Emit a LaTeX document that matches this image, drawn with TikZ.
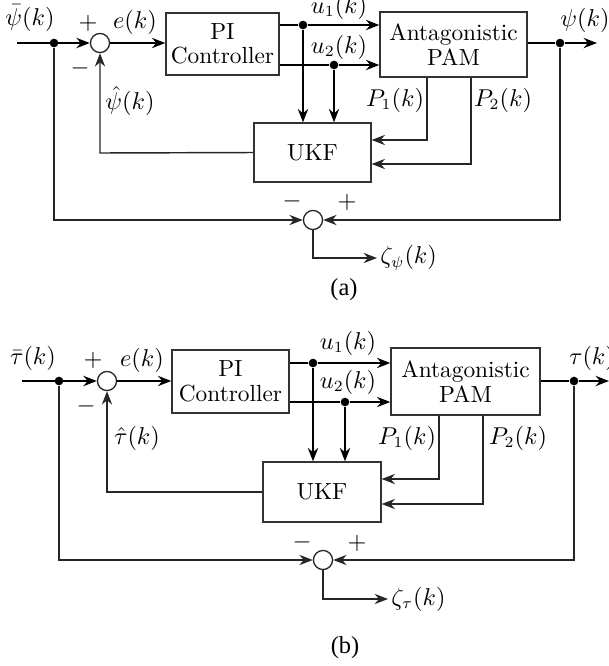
\documentclass[tikz,border=0pt]{standalone}
\usepackage{fontspec}
\newfontfamily\capfont[Ligatures=TeX]{Liberation Serif}
\usetikzlibrary{arrows.meta}
\begin{document}
\begin{tikzpicture}[x=0.45pt,y=-0.45pt,
  blk/.style={draw=black!80,line width=0.6pt,inner sep=0pt,align=center,font=\fontsize{10.5}{12}\selectfont},
  sumc/.style={circle,draw=black!85,line width=0.6pt,minimum size=8.6pt,inner sep=0pt},
  dotn/.style={circle,fill=black,minimum size=3.9pt,inner sep=0pt},
  fwd/.style={line width=1.05pt,-{Stealth[length=6pt,width=4.6pt]}},
  bwd/.style={line width=0.65pt,draw=black!85,-{Stealth[length=6pt,width=4.6pt]}},
  lbl/.style={inner sep=0pt,font=\fontsize{10.5}{12}\selectfont},
  sgn/.style={inner sep=0pt,font=\fontsize{11}{12}\selectfont},
  captxt/.style={inner sep=0pt,font=\fontsize{11}{13}\selectfont\capfont}]
\useasboundingbox (0,0) rectangle (609,666);

% ================= panel (a) =================
\node[blk,minimum width=50.85pt,minimum height=27.9pt] (aPI) at (222.5,44) {PI\\[-1pt]Controller};
\node[blk,minimum width=66.15pt,minimum height=29.25pt] (aPAM) at (453.5,44.5) {Antagonistic\\[-1pt]PAM};
\node[blk,minimum width=52.65pt,minimum height=26.55pt] (aUKF) at (312.5,152.5) {UKF};
\node[sumc] (aS1) at (100,43) {};
\node[sumc] (aS2) at (313,220) {};
\node[dotn] (aD1) at (54,43) {};
\node[dotn] (aDU1) at (303,25) {};
\node[dotn] (aDU2) at (334,65) {};
\node[dotn] (aDO) at (560,43) {};
\coordinate (aIn) at (17,43);
\coordinate (aOut) at (597,43);
\coordinate (aP1) at (427,140);
\coordinate (aP2) at (471,164);
\coordinate (aFB) at (100,153);
\coordinate (aZ) at (313,258);
\coordinate (aZo) at (377,258);

\draw[fwd] (aIn) -- (aS1);
\draw[fwd] (aS1) -- (aPI.west |- aS1);
\draw[fwd] (aPI.east |- aDU1) -- (aDU1) -- (aPAM.west |- aDU1);
\draw[fwd] (aPI.east |- aDU2) -- (aDU2) -- (aPAM.west |- aDU2);
\draw[fwd] (aDU1) -- (aDU1 |- aUKF.north);
\draw[fwd] (aDU2) -- (aDU2 |- aUKF.north);
\draw[fwd] (aPAM.east |- aDO) -- (aDO) -- (aOut);
\draw[bwd] (aP1 |- aPAM.south) -- (aP1) -- (aUKF.east |- aP1);
\draw[bwd] (aP2 |- aPAM.south) -- (aP2) -- (aUKF.east |- aP2);
\draw[bwd] (aUKF.west) -- (aFB) -- (aS1.south);
\draw[bwd] (aD1) |- (aS2.west);
\draw[bwd] (aDO) |- (aS2.east);
\draw[bwd] (aS2.south) -- (aZ) -- (aZo);

\node[lbl] (aLin) at (30,18) {$\bar{\psi}(k)$};
\node[sgn] (aPl1) at (88,23) {$+$};
\node[sgn] (aMi1) at (80,68) {$-$};
\node[lbl] (aLe) at (135,22) {$e(k)$};
\node[lbl] (aLu1) at (339,7) {$u_1(k)$};
\node[lbl] (aLu2) at (339,47) {$u_2(k)$};
\node[lbl] (aLout) at (585,20) {$\psi(k)$};
\node[lbl] (aLhat) at (130,101) {$\hat{\psi}(k)$};
\node[lbl] (aLP1) at (395,100) {$P_1(k)$};
\node[lbl] (aLP2) at (503,100) {$P_2(k)$};
\node[sgn] (aMi2) at (292,201) {$-$};
\node[sgn] (aPl2) at (347,202) {$+$};
\node[lbl,anchor=west] (aLz) at (380,258) {$\zeta_{\psi}(k)$};
\node[captxt] (aCap) at (344,290) {(a)};

% ================= panel (b) =================
\node[blk,minimum width=52.65pt,minimum height=28.35pt] (bPI) at (230.5,381.5) {PI\\[-1pt]Controller};
\node[blk,minimum width=67.05pt,minimum height=30.15pt] (bPAM) at (465.5,381.5) {Antagonistic\\[-1pt]PAM};
\node[blk,minimum width=53.1pt,minimum height=27pt] (bUKF) at (322,492) {UKF};
\node[sumc] (bS1) at (107,381) {};
\node[sumc] (bS2) at (323,560) {};
\node[dotn] (bD1) at (59,381) {};
\node[dotn] (bDU1) at (313,363) {};
\node[dotn] (bDU2) at (345,402) {};
\node[dotn] (bDO) at (574,381) {};
\coordinate (bIn) at (22,381);
\coordinate (bOut) at (609,381);
\coordinate (bP1) at (439,479);
\coordinate (bP2) at (483,504);
\coordinate (bFB) at (107,492);
\coordinate (bZ) at (323,599);
\coordinate (bZo) at (388,599);

\draw[fwd] (bIn) -- (bS1);
\draw[fwd] (bS1) -- (bPI.west |- bS1);
\draw[fwd] (bPI.east |- bDU1) -- (bDU1) -- (bPAM.west |- bDU1);
\draw[fwd] (bPI.east |- bDU2) -- (bDU2) -- (bPAM.west |- bDU2);
\draw[fwd] (bDU1) -- (bDU1 |- bUKF.north);
\draw[fwd] (bDU2) -- (bDU2 |- bUKF.north);
\draw[fwd] (bPAM.east |- bDO) -- (bDO) -- (bOut);
\draw[bwd] (bP1 |- bPAM.south) -- (bP1) -- (bUKF.east |- bP1);
\draw[bwd] (bP2 |- bPAM.south) -- (bP2) -- (bUKF.east |- bP2);
\draw[bwd] (bUKF.west) -- (bFB) -- (bS1.south);
\draw[bwd] (bD1) |- (bS2.west);
\draw[bwd] (bDO) |- (bS2.east);
\draw[bwd] (bS2.south) -- (bZ) -- (bZo);

\node[lbl] (bLin) at (33,358) {$\bar{\tau}(k)$};
\node[sgn] (bPl1) at (93,360) {$+$};
\node[sgn] (bMi1) at (86,406) {$-$};
\node[lbl] (bLe) at (142,360) {$e(k)$};
\node[lbl] (bLu1) at (348,343) {$u_1(k)$};
\node[lbl] (bLu2) at (348,382) {$u_2(k)$};
\node[lbl] (bLout) at (592,358) {$\tau(k)$};
\node[lbl] (bLhat) at (137,438) {$\hat{\tau}(k)$};
\node[lbl] (bLP1) at (407,438) {$P_1(k)$};
\node[lbl] (bLP2) at (518,438) {$P_2(k)$};
\node[sgn] (bMi2) at (302,542) {$-$};
\node[sgn] (bPl2) at (357,543) {$+$};
\node[lbl,anchor=west] (bLz) at (391,599) {$\zeta_{\tau}(k)$};
\node[captxt] (bCap) at (345,648) {(b)};
\end{tikzpicture}
\end{document}
